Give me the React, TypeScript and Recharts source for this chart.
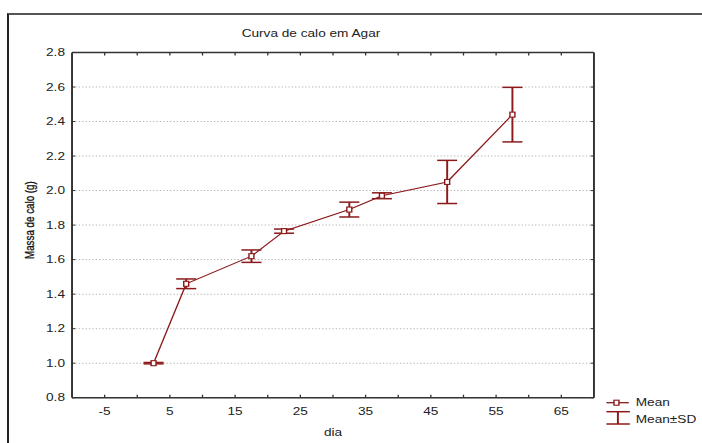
import React from 'react';
import { ComposedChart, Line, ErrorBar, XAxis, YAxis, CartesianGrid, Legend } from 'recharts';

// ---- data ----
const DAYS = [2.5, 7.5, 17.5, 22.5, 32.5, 37.5, 47.5, 57.5];
const MEANS = [1.0, 1.46, 1.62, 1.765, 1.89, 1.97, 2.05, 2.44];
const SDS = [0.004, 0.028, 0.036, 0.012, 0.043, 0.017, 0.125, 0.158];

const X_TICKS = [-5, 0, 5, 10, 15, 20, 25, 30, 35, 40, 45, 50, 55, 60, 65];
const X_LABELED = [-5, 5, 15, 25, 35, 45, 55, 65];
const Y_TICKS = [0.8, 1.0, 1.2, 1.4, 1.6, 1.8, 2.0, 2.2, 2.4, 2.6, 2.8];
const X_DOMAIN = [-10, 70];
const Y_DOMAIN = [0.8, 2.8];

const TITLE = 'Curva de calo em Agar';
const X_LABEL = 'dia';
const Y_LABEL = 'Massa de calo (g)';
const LEGEND_LABELS = ['Mean', 'Mean±SD'];

const data = DAYS.map((d, i) => ({ dia: d, mean: MEANS[i], sd: SDS[i] }));

// ---- style ----
const RED = '#8c1a1a';
const AXIS = '#333';
const TXT = '#222';
const SX = 1.3;
const FS = 10.5;
const FONT = '"Liberation Sans", Arial, sans-serif';

const SquareDot = (props: any) => {
  const { cx, cy, index } = props;
  if (cx == null || cy == null) return null;
  return (
    <rect key={`dot-${index}`} x={cx - 1.9} y={cy - 2.5} width={3.8} height={5}
      fill="#fff" stroke={RED} strokeWidth={1.1} />
  );
};

const YLabel = (p: any) => {
  const vb = p.viewBox || { x: 0, y: 0, width: 0, height: 0 };
  const cx = vb.x + 23;
  const cy = vb.y + vb.height / 2 - 5;
  return (
    <text x={cx} y={cy} transform={`rotate(-90 ${cx} ${cy})`} textAnchor="middle"
      dominantBaseline="central" fill="#111" fontSize={9.8} fontFamily={FONT} stroke="#111" strokeWidth={0.25}>
      {Y_LABEL}
    </text>
  );
};

const LegendContent = () => (
  <div style={{ position: 'relative', width: 80, height: 34, fontSize: FS, color: TXT, fontFamily: FONT }}>
    <svg width={20} height={34} style={{ position: 'absolute', left: 0, top: 0, overflow: 'visible' }}>
      <line x1={0.5} x2={17.7} y1={6.7} y2={6.7} stroke={RED} strokeWidth={1.3} />
      <rect x={6.3} y={4.2} width={3.8} height={5} fill="#fff" stroke={RED} strokeWidth={1.1} />
      <line x1={0.5} x2={18.5} y1={15.7} y2={15.7} stroke={RED} strokeWidth={1.5} />
      <line x1={9.3} x2={9.3} y1={15.7} y2={28} stroke={RED} strokeWidth={1.5} />
      <line x1={0.5} x2={18.5} y1={28} y2={28} stroke={RED} strokeWidth={1.5} />
    </svg>
    <span style={{ position: 'absolute', left: 23, top: 0, lineHeight: '13px', whiteSpace: 'nowrap' }}>{LEGEND_LABELS[0]}</span>
    <span style={{ position: 'absolute', left: 23, top: 16.5, lineHeight: '13px', whiteSpace: 'nowrap' }}>{LEGEND_LABELS[1]}</span>
  </div>
);

const tickStyle = { fill: TXT, fontSize: FS, fontFamily: FONT };

export default function App() {
  return (
    <div style={{ position: 'absolute', left: 0, top: 0, width: 702, height: 443, background: '#fff', overflow: 'hidden', fontFamily: FONT }}>
      <div style={{ position: 'absolute', left: 7, top: 13, width: 700, height: 440, borderLeft: '2px solid #222', borderTop: '2px solid #555' }} />
      <div style={{ position: 'absolute', left: 0, top: 0, width: 540, height: 443, transform: `scaleX(${SX})`, transformOrigin: '0 0' }}>
        <ComposedChart width={540} height={443} data={data} margin={{ top: 32.5, right: 73.1, bottom: 0, left: 0 }}>
          <CartesianGrid xAxisId="b" yAxisId="l" vertical={false} stroke="#b4b4b4" strokeDasharray="1 1.6" />
          <XAxis xAxisId="b" dataKey="dia" type="number" domain={X_DOMAIN} ticks={X_TICKS} interval={0}
            allowDataOverflow height={45.3}
            tickFormatter={(v: number) => (X_LABELED.includes(v) ? String(v) : '')}
            axisLine={{ stroke: AXIS, strokeWidth: 1.5 }} tickLine={{ stroke: AXIS, strokeWidth: 1 }}
            tickSize={-3} tickMargin={12.5} tick={tickStyle}
            label={{ value: X_LABEL, position: 'insideBottom', offset: 7, fill: TXT, fontSize: FS }} />
          <XAxis xAxisId="t" orientation="top" dataKey="dia" type="number" domain={X_DOMAIN} ticks={X_TICKS}
            interval={0} allowDataOverflow height={20} tickFormatter={() => ''}
            axisLine={{ stroke: AXIS, strokeWidth: 1.5 }} tickLine={{ stroke: AXIS, strokeWidth: 1 }}
            tickSize={-3} tick={tickStyle} />
          <YAxis yAxisId="l" type="number" domain={Y_DOMAIN} ticks={Y_TICKS} interval={0} allowDataOverflow
            width={55.4} tickFormatter={(v: number) => v.toFixed(1)}
            axisLine={{ stroke: AXIS, strokeWidth: 1.5 }} tickLine={{ stroke: AXIS, strokeWidth: 1 }}
            tickSize={-2.5} tickMargin={7.9} tick={tickStyle}
            label={{ content: YLabel }} />
          <YAxis yAxisId="r" orientation="right" type="number" domain={Y_DOMAIN} ticks={Y_TICKS} interval={0}
            allowDataOverflow width={10} tickFormatter={() => ''}
            axisLine={{ stroke: AXIS, strokeWidth: 1.5 }} tickLine={{ stroke: AXIS, strokeWidth: 1 }}
            tickSize={-2.5} tick={tickStyle} />
          <Line xAxisId="b" yAxisId="l" type="linear" dataKey="mean" name="Mean" stroke={RED}
            strokeWidth={1.1} dot={SquareDot} activeDot={false} isAnimationActive={false}>
            <ErrorBar dataKey="sd" direction="y" width={7.7} stroke={RED} strokeWidth={1.5} isAnimationActive={false} />
          </Line>
          <Legend content={LegendContent} layout="horizontal" verticalAlign="middle" align="center"
            wrapperStyle={{ left: 466, top: 396, width: 80, height: 34 }} />
          <text x={239.2} y={37.3} textAnchor="middle" fill={TXT} fontSize={FS} fontFamily={FONT}>{TITLE}</text>
        </ComposedChart>
      </div>
    </div>
  );
}
